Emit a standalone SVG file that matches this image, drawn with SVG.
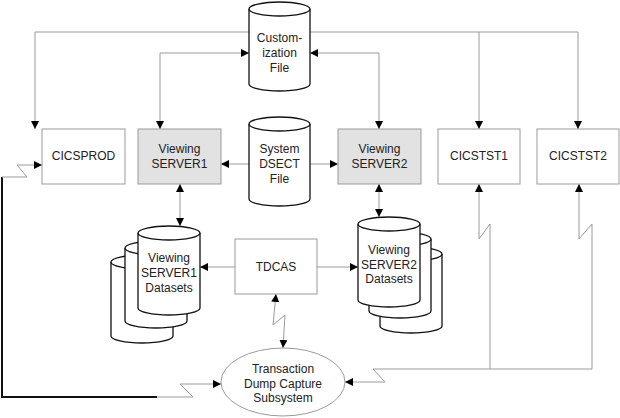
<svg xmlns="http://www.w3.org/2000/svg" width="620" height="418" viewBox="0 0 620 418">
<style>
text{font-family:"Liberation Sans",Arial,sans-serif;font-size:12px;fill:#222;text-anchor:middle}
.box{fill:#fff;stroke:#9a9a9a;stroke-width:1}
.srv{fill:#e2e2e2;stroke:#9a9a9a;stroke-width:1}
.cyl{fill:#fff;stroke:#111;stroke-width:1.3}
.ln{fill:none;stroke:#9a9a9a;stroke-width:1}
.thick{fill:none;stroke:#111;stroke-width:2}
</style>
<defs>
<marker id="ar" viewBox="0 0 8 8" refX="8" refY="4" markerWidth="8" markerHeight="8" markerUnits="userSpaceOnUse" orient="auto-start-reverse">
<path d="M0,0 L8,4 L0,8 z" fill="#000"/>
</marker>
</defs>
<rect width="620" height="418" fill="#fff"/>
<g id="connectors">
<polyline class="ln" points="249,32 35,32 35,129" marker-end="url(#ar)"/>
<polyline class="ln" points="310,32 578,32 578,129" marker-end="url(#ar)"/>
<polyline class="ln" points="479,32 479,129" marker-end="url(#ar)"/>
<path class="ln" d="M160,129 V53 H249" marker-start="url(#ar)" marker-end="url(#ar)"/>
<path class="ln" d="M379,129 V53 H310" marker-start="url(#ar)" marker-end="url(#ar)"/>
<path class="ln" d="M249,164 H221" marker-end="url(#ar)"/>
<path class="ln" d="M310,164 H338" marker-end="url(#ar)"/>
<path class="ln" d="M180,184 V226" marker-start="url(#ar)" marker-end="url(#ar)"/>
<path class="ln" d="M379,184 V217" marker-start="url(#ar)" marker-end="url(#ar)"/>
<path class="ln" d="M235,267 H200" marker-end="url(#ar)"/>
<path class="ln" d="M317,267 H358" marker-end="url(#ar)"/>
<path class="ln" d="M276,294 L273,325 L285,315 L283,348" marker-start="url(#ar)" marker-end="url(#ar)"/>
<path class="thick" d="M2,177 V397 H157"/>
<path class="ln" d="M2,177 H27 L17,165 H42" marker-end="url(#ar)"/>
<path class="ln" d="M157,397 H193 L180,384 H221" marker-end="url(#ar)"/>
<path class="ln" d="M373,369 H592 V224 L579,239 V184" marker-end="url(#ar)"/>
<path class="ln" d="M490,369 V224 L479,239 V184" marker-end="url(#ar)"/>
<path class="ln" d="M373,369 L385,382 H345" marker-end="url(#ar)"/>
</g>
<g id="customization">
<path class="cyl" d="M249,9 V84 A30.5,7 0 0 0 310,84 V9"/>
<ellipse class="cyl" cx="279.5" cy="9" rx="30.5" ry="7"/>
<text x="279.5" y="42">Custom-</text>
<text x="279.5" y="57">ization</text>
<text x="279.5" y="72">File</text>
</g>
<g id="dsect">
<path class="cyl" d="M249,124 V199 A30.5,7 0 0 0 310,199 V124"/>
<ellipse class="cyl" cx="279.5" cy="124" rx="30.5" ry="7"/>
<text x="279.5" y="153">System</text>
<text x="279.5" y="168">DSECT</text>
<text x="279.5" y="183">File</text>
</g>
<g id="cicsprod">
<rect class="box" x="42" y="129" width="83" height="55"/>
<text x="83.5" y="160">CICSPROD</text>
</g>
<g id="server1">
<rect class="srv" x="138" y="129" width="83" height="55"/>
<text x="179.5" y="153">Viewing</text>
<text x="179.5" y="168">SERVER1</text>
</g>
<g id="server2">
<rect class="srv" x="338" y="129" width="83" height="55"/>
<text x="379.5" y="153">Viewing</text>
<text x="379.5" y="168">SERVER2</text>
</g>
<g id="cicstst1">
<rect class="box" x="438" y="129" width="82" height="55"/>
<text x="479" y="160">CICSTST1</text>
</g>
<g id="cicstst2">
<rect class="box" x="537" y="129" width="82" height="55"/>
<text x="578" y="160">CICSTST2</text>
</g>
<g id="datasets1">
<path class="cyl" d="M111,262 V336 A31,7 0 0 0 173,336 V262"/>
<ellipse class="cyl" cx="142" cy="262" rx="31" ry="7"/>
<path class="cyl" d="M125,248 V321 A31,7 0 0 0 187,321 V248"/>
<ellipse class="cyl" cx="156" cy="248" rx="31" ry="7"/>
<path class="cyl" d="M138,233 V308 A31,7 0 0 0 200,308 V233"/>
<ellipse class="cyl" cx="169" cy="233" rx="31" ry="7"/>
<text x="169" y="262">Viewing</text>
<text x="169" y="277">SERVER1</text>
<text x="169" y="292">Datasets</text>
</g>
<g id="datasets2">
<path class="cyl" d="M380,254 V326 A31,7 0 0 0 442,326 V254"/>
<ellipse class="cyl" cx="411" cy="254" rx="31" ry="7"/>
<path class="cyl" d="M369,239 V311 A31,7 0 0 0 431,311 V239"/>
<ellipse class="cyl" cx="400" cy="239" rx="31" ry="7"/>
<path class="cyl" d="M358,224 V300 A31,7 0 0 0 420,300 V224"/>
<ellipse class="cyl" cx="389" cy="224" rx="31" ry="7"/>
<text x="389" y="254">Viewing</text>
<text x="389" y="269">SERVER2</text>
<text x="389" y="283">Datasets</text>
</g>
<g id="tdcas">
<rect class="box" x="235" y="239" width="82" height="55"/>
<text x="276" y="271">TDCAS</text>
</g>
<g id="tdcs">
<ellipse cx="283" cy="382" rx="62" ry="34" fill="#fff" stroke="#9a9a9a" stroke-width="1"/>
<text x="283" y="373">Transaction</text>
<text x="283" y="388">Dump Capture</text>
<text x="283" y="402">Subsystem</text>
</g>
</svg>
